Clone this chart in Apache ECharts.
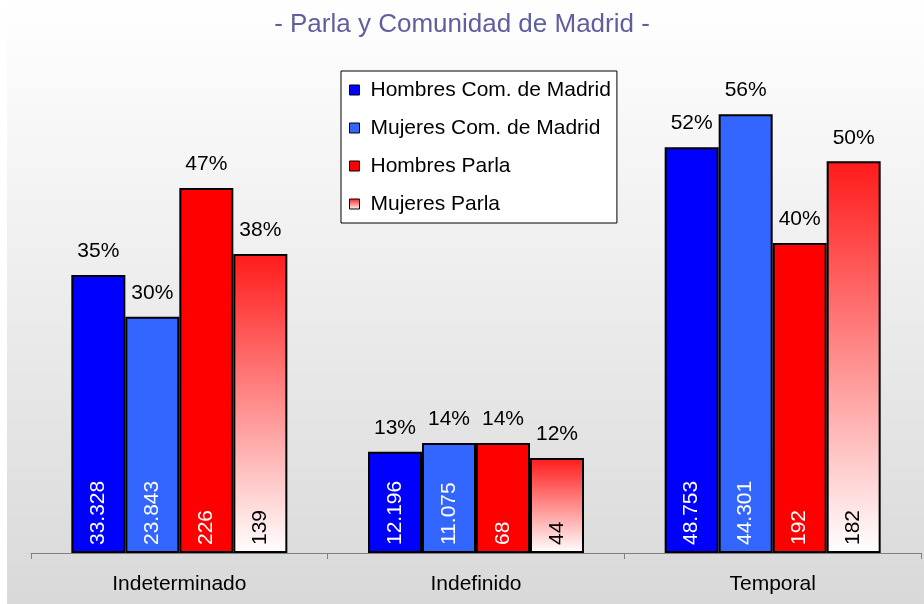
<!DOCTYPE html>
<html>
<head>
<meta charset="utf-8">
<script src="https://cdn.jsdelivr.net/npm/echarts@6/dist/echarts.min.js"></script>
<style>
  html, body { margin: 0; padding: 0; background: #ffffff; }
  #chart { width: 924px; height: 604px; }
</style>
</head>
<body>
<div id="chart"></div>
<script>
// categorías y series
const categories = ['Indeterminado', 'Indefinido', 'Temporal'];
const seriesNames = ['Hombres Com. de Madrid', 'Mujeres Com. de Madrid', 'Hombres Parla', 'Mujeres Parla'];

// porcentajes (altura de las barras)
const pctHombresMadrid = [35.4, 12.9, 51.7];
const pctMujeresMadrid = [30.1, 14.0, 55.9];
const pctHombresParla = [46.5, 14.0, 39.5];
const pctMujeresParla = [38.1, 12.1, 49.9];

// número de contratos (texto dentro de la barra)
const cntHombresMadrid = [33328, 12196, 48753];
const cntMujeresMadrid = [23843, 11075, 44301];
const cntHombresParla = [226, 68, 192];
const cntMujeresParla = [139, 44, 182];

const pctArr = [pctHombresMadrid, pctMujeresMadrid, pctHombresParla, pctMujeresParla];
const cntArr = [cntHombresMadrid, cntMujeresMadrid, cntHombresParla, cntMujeresParla];

const FONT = '"Liberation Sans", Arial, sans-serif';

const colors = [
    '#0000ff',
    '#3366ff',
    '#ff0000',
    new echarts.graphic.LinearGradient(0, 0, 0, 1, [
        { offset: 0, color: '#ff1a1a' },
        { offset: 1, color: '#ffffff' }
    ])
];
const cntColors = ['#ffffff', '#ffffff', '#ffffff', '#000000'];

function fmtMiles(n) {
    return String(n).replace(/\B(?=(\d{3})+(?!\d))/g, '.');
}

let seriesArr = [];
seriesNames.forEach((name, i) => {
    // barra principal con el número abajo
    seriesArr.push({
        type: 'bar',
        name: name,
        stack: 's' + i,
        data: pctArr[i],
        barWidth: 54,
        barGap: '0%',
        itemStyle: {
            color: colors[i],
            borderColor: '#000000',
            borderWidth: 2
        },
        label: {
            show: true,
            position: 'insideBottom',
            distance: 8,
            rotate: 90,
            align: 'left',
            verticalAlign: 'middle',
            fontFamily: FONT,
            fontSize: 21,
            color: cntColors[i],
            formatter: p => fmtMiles(cntArr[i][p.dataIndex])
        }
    });
    // barra vacía encima para el porcentaje
    seriesArr.push({
        type: 'bar',
        name: 'pct' + i,
        stack: 's' + i,
        data: pctArr[i].map(() => 0),
        barWidth: 54,
        barGap: '0%',
        itemStyle: { color: 'transparent', borderWidth: 0 },
        label: {
            show: true,
            position: 'top',
            distance: 13,
            fontFamily: FONT,
            fontSize: 21,
            color: '#000000',
            formatter: p => Math.round(pctArr[i][p.dataIndex]) + '%'
        }
    });
});

const chart = echarts.init(document.getElementById('chart'), null, { renderer: 'canvas' });
chart.setOption({
    animation: false,
    graphic: [{
        type: 'rect',
        left: 7,
        top: 0,
        z: -10,
        shape: { width: 917, height: 604 },
        style: {
            fill: new echarts.graphic.LinearGradient(0, 0, 0, 1, [
                { offset: 0, color: '#ffffff' },
                { offset: 1, color: '#d9d9d9' }
            ])
        }
    }],
    title: {
        text: '- Parla y Comunidad de Madrid -',
        left: 'center',
        top: 7,
        textStyle: {
            fontFamily: FONT,
            fontSize: 26,
            fontWeight: 'normal',
            color: '#5f5f9f'
        }
    },
    legend: {
        data: seriesNames,
        orient: 'vertical',
        left: 341,
        top: 71,
        padding: [7, 6, 7, 8],
        itemGap: 14,
        itemWidth: 10,
        itemHeight: 10,
        icon: 'rect',
        backgroundColor: '#ffffff',
        borderColor: '#000000',
        borderWidth: 1,
        itemStyle: { borderColor: '#000000', borderWidth: 1 },
        textStyle: {
            fontFamily: FONT,
            fontSize: 21,
            lineHeight: 24,
            color: '#000000',
            padding: [0, 0, 0, 6]
        }
    },
    grid: {
        left: 31,
        right: 3,
        top: 82,
        bottom: 51
    },
    xAxis: {
        type: 'category',
        data: categories,
        axisLine: { lineStyle: { color: '#808080', width: 1 } },
        axisTick: { show: true, length: 6, lineStyle: { color: '#808080' } },
        axisLabel: {
            margin: 21,
            fontFamily: FONT,
            fontSize: 21,
            color: '#000000'
        }
    },
    yAxis: {
        type: 'value',
        min: 0,
        max: 60,
        show: false,
        splitLine: { show: false }
    },
    series: seriesArr
});
</script>
</body>
</html>
